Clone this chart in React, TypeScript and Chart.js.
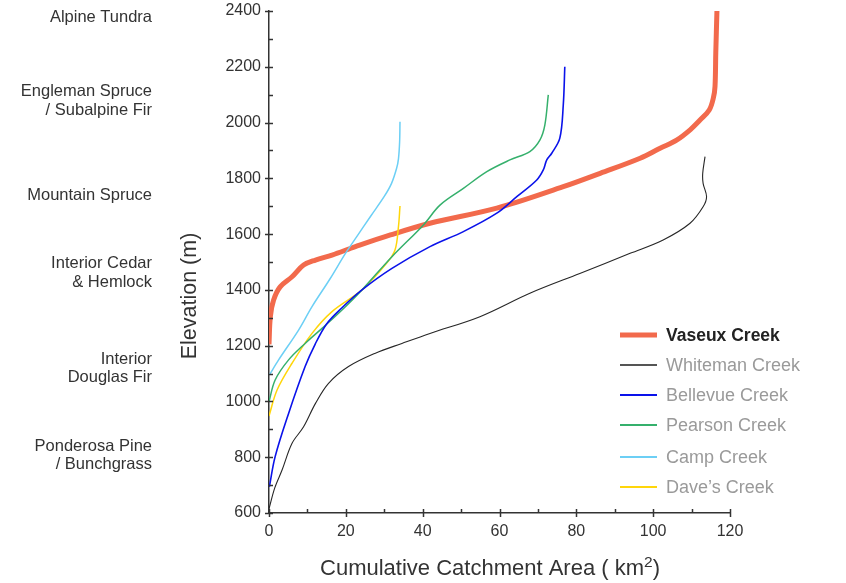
import React, { useEffect, useRef } from "react";
import { Chart, registerables } from "chart.js";

Chart.register(...registerables);

const FONT = "'Liberation Sans', Arial, Helvetica, sans-serif";
const AXIS_COLOR = "#333333";
const TEXT_COLOR = "#333333";

// ---- Data (cumulative catchment area km², elevation m) ----
const vaseuxArea = [0, 0.35, 1.2, 2.9, 6.0, 9.0, 12.1, 16.4, 22.5, 31.6, 41.9, 59.3, 76.6, 86.2, 96.6, 101.8, 106.1, 109.7, 112.2, 114.6, 115.7, 116.1, 116.3, 116.6];
const vaseuxElev = [1205, 1304, 1364, 1411, 1447, 1489, 1507, 1525, 1555, 1597, 1639, 1693, 1770, 1818, 1872, 1908, 1937, 1975, 2009, 2045, 2090, 2130, 2250, 2400];

const whitemanArea = [0, 1.5, 3.4, 6.0, 9.0, 12.1, 15.5, 20.7, 27.7, 34.6, 41.9, 54.9, 67.9, 80.9, 94.0, 102.6, 109.6, 113.0, 113.9, 113.0, 112.9, 113.5];
const whitemanElev = [615, 690, 754, 850, 909, 993, 1065, 1125, 1173, 1208, 1244, 1304, 1388, 1459, 1531, 1579, 1639, 1698, 1734, 1782, 1818, 1878];

const bellevueArea = [0.1, 1.6, 5.1, 9.4, 12.0, 15.0, 19.0, 24.2, 32.0, 41.9, 50.6, 59.3, 64.5, 69.7, 71.4, 72.3, 73.6, 75.7, 76.6, 77.0];
const bellevueElev = [694, 802, 957, 1125, 1205, 1278, 1336, 1400, 1477, 1555, 1609, 1675, 1734, 1794, 1830, 1866, 1890, 1944, 2063, 2200];

const pearsonArea = [0, 1.6, 5.1, 9.4, 13.8, 19.0, 24.2, 32.0, 40.2, 44.5, 50.6, 56.7, 62.7, 67.9, 70.5, 71.8, 72.7];
const pearsonElev = [999, 1077, 1149, 1208, 1262, 1328, 1400, 1519, 1633, 1704, 1764, 1824, 1866, 1896, 1937, 1991, 2099];

const campArea = [0.1, 2.5, 7.7, 11.2, 15.9, 19.9, 22.8, 26.5, 30.0, 31.9, 33.2, 33.7, 34.0, 34.1];
const campElev = [1095, 1149, 1256, 1340, 1440, 1531, 1590, 1665, 1735, 1782, 1835, 1870, 1930, 2003];

const davesArea = [0, 2.1, 6.0, 11.2, 16.4, 24.2, 30.6, 32.8, 33.7, 34.1];
const davesElev = [948, 1041, 1137, 1244, 1322, 1400, 1495, 1543, 1627, 1701];

const seriesNames = ["Vaseux Creek", "Whiteman Creek", "Bellevue Creek", "Pearson Creek", "Camp Creek", "Dave\u2019s Creek"];
const seriesAreas = [vaseuxArea, whitemanArea, bellevueArea, pearsonArea, campArea, davesArea];
const seriesElevs = [vaseuxElev, whitemanElev, bellevueElev, pearsonElev, campElev, davesElev];
const seriesColors = ["#f26a4c", "#262626", "#0a12ea", "#35b06c", "#6ccff5", "#ffd60a"];
const seriesWidths = [5, 1.1, 1.6, 1.5, 1.5, 1.5];

// Axis ranges / ticks
const xMin = 0, xMax = 120, xStep = 20;
const yMin = 600, yMax = 2400, yStep = 200;

// Vegetation zone labels on the left, placed at elevations
const zoneLabels = [
  ["Alpine Tundra"],
  ["Engleman Spruce", "/ Subalpine Fir"],
  ["Mountain Spruce"],
  ["Interior Cedar", "& Hemlock"],
  ["Interior", "Douglas Fir"],
  ["Ponderosa Pine", "/ Bunchgrass"],
];
const zoneElevations = [2378, 2078, 1740, 1461, 1118, 806];

const xTitleMain = "Cumulative Catchment Area ( km";
const xTitleSup = "2";
const xTitleEnd = ")";
const yTitle = "Elevation (m)";

const decorPlugin = {
  id: "decor",
  afterDraw(chart: any) {
    const ctx: CanvasRenderingContext2D = chart.ctx;
    const xs = chart.scales.x;
    const ys = chart.scales.y;
    const ca = chart.chartArea;
    ctx.save();

    // tick marks
    ctx.strokeStyle = AXIS_COLOR;
    ctx.lineWidth = 1.5;
    for (let v = yMin; v <= yMax; v += yStep / 2) {
      const p = Math.round(ys.getPixelForValue(v)) + 0.5;
      const major = (v - yMin) % yStep === 0;
      ctx.beginPath();
      ctx.moveTo(ca.left - (major ? 4 : 0), p);
      ctx.lineTo(ca.left + 4, p);
      ctx.stroke();
    }
    for (let v = xMin; v <= xMax; v += xStep / 2) {
      const p = Math.round(xs.getPixelForValue(v)) + 0.5;
      const major = (v - xMin) % xStep === 0;
      ctx.beginPath();
      ctx.moveTo(p, ca.bottom - 4);
      ctx.lineTo(p, ca.bottom + (major ? 4 : 0));
      ctx.stroke();
    }

    // zone labels
    ctx.fillStyle = TEXT_COLOR;
    ctx.font = `16.5px ${FONT}`;
    ctx.textAlign = "right";
    ctx.textBaseline = "middle";
    const lh = 18.5;
    zoneLabels.forEach((lines, i) => {
      const cy = ys.getPixelForValue(zoneElevations[i]);
      const start = cy - ((lines.length - 1) * lh) / 2;
      lines.forEach((t, j) => ctx.fillText(t, 152, start + j * lh));
    });

    // y title
    ctx.save();
    ctx.translate(190, 296);
    ctx.rotate(-Math.PI / 2);
    ctx.textAlign = "center";
    ctx.textBaseline = "middle";
    ctx.font = `21.5px ${FONT}`;
    ctx.fillText(yTitle, 0, 0);
    ctx.restore();

    // x title with superscript
    ctx.textAlign = "left";
    ctx.textBaseline = "alphabetic";
    const big = `22px ${FONT}`;
    const small = `15.5px ${FONT}`;
    ctx.font = big;
    const w1 = ctx.measureText(xTitleMain).width;
    const w3 = ctx.measureText(xTitleEnd).width;
    ctx.font = small;
    const w2 = ctx.measureText(xTitleSup).width;
    const total = w1 + w2 + w3;
    const x0 = 490 - total / 2;
    const base = 575;
    ctx.font = big;
    ctx.fillText(xTitleMain, x0, base);
    ctx.font = small;
    ctx.fillText(xTitleSup, x0 + w1, base - 8);
    ctx.font = big;
    ctx.fillText(xTitleEnd, x0 + w1 + w2, base);

    // legend
    const ds = chart.data.datasets;
    const rowY = [335, 365, 395, 425, 457, 487];
    ds.forEach((d: any, i: number) => {
      const y = rowY[i];
      ctx.strokeStyle = i === 1 ? "#555555" : d.borderColor;
      ctx.lineWidth = i === 0 ? 5 : 2;
      ctx.lineCap = "butt";
      ctx.beginPath();
      ctx.moveTo(620, y);
      ctx.lineTo(657, y);
      ctx.stroke();
      ctx.font = `${i === 0 ? "bold 17.5px" : "18px"} ${FONT}`;
      ctx.fillStyle = i === 0 ? "#222222" : "#9a9a9a";
      ctx.textAlign = "left";
      ctx.textBaseline = "middle";
      ctx.fillText(d.label, 666, y + 1);
    });

    ctx.restore();
  },
};

export default function App() {
  const ref = useRef<HTMLCanvasElement | null>(null);

  useEffect(() => {
    if (!ref.current) return;
    const datasets = seriesNames.map((name, i) => ({
      label: name,
      data: seriesAreas[i].map((a, k) => ({ x: a, y: seriesElevs[i][k] })),
      borderColor: seriesColors[i],
      backgroundColor: seriesColors[i],
      borderWidth: seriesWidths[i],
      showLine: true,
      pointRadius: 0,
      pointHoverRadius: 0,
      tension: 0.35,
      fill: false,
      order: i === 0 ? 1 : 0,
      borderCapStyle: "butt" as const,
    }));

    const chart = new Chart(ref.current, {
      type: "scatter",
      data: { datasets },
      options: {
        responsive: false,
        animation: false,
        devicePixelRatio: 1,
        layout: { padding: { left: 0, right: 116, top: 11, bottom: 0 } },
        plugins: {
          legend: { display: false },
          tooltip: { enabled: false },
        },
        scales: {
          x: {
            type: "linear",
            min: xMin,
            max: xMax,
            afterFit: (s: any) => {
              s.height = 70;
              s.paddingLeft = 0;
              s.paddingRight = 0;
            },
            ticks: {
              stepSize: xStep,
              color: TEXT_COLOR,
              font: { family: FONT, size: 16 },
              padding: 9,
              maxRotation: 0,
              callback: (v: any) => String(v),
            },
            grid: { display: true, drawOnChartArea: false, drawTicks: false },
            border: { display: true, color: AXIS_COLOR, width: 1.5 },
          },
          y: {
            type: "linear",
            min: yMin,
            max: yMax,
            afterFit: (s: any) => {
              s.width = 269;
              s.paddingTop = 0;
              s.paddingBottom = 0;
            },
            ticks: {
              stepSize: yStep,
              color: TEXT_COLOR,
              font: { family: FONT, size: 16 },
              padding: 8,
              callback: (v: any) => String(v),
            },
            grid: { display: true, drawOnChartArea: false, drawTicks: false },
            border: { display: true, color: AXIS_COLOR, width: 1.5 },
          },
        },
      },
      plugins: [decorPlugin],
    });
    return () => chart.destroy();
  }, []);

  return (
    <div style={{ position: "fixed", left: 0, top: 0, width: 846, height: 583, background: "#fff" }}>
      <canvas ref={ref} width={846} height={583} style={{ display: "block" }} />
    </div>
  );
}
